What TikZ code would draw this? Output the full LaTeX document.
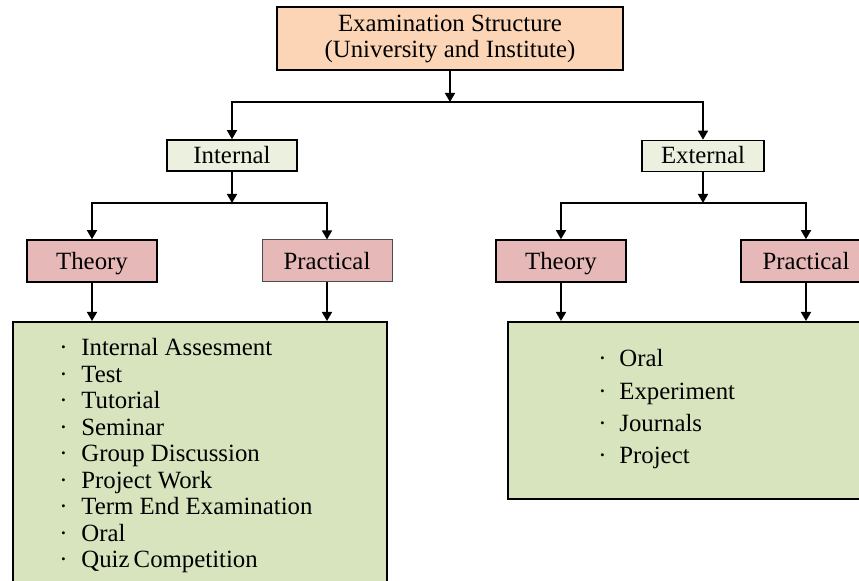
\documentclass[tikz,border=0pt]{standalone}
\usepackage{fontspec}
\setmainfont{Liberation Serif}
\usetikzlibrary{arrows.meta}
\definecolor{peach}{HTML}{FBD5B5}
\definecolor{palegreen}{HTML}{EBF1DE}
\definecolor{rose}{HTML}{E6B8B7}
\definecolor{listgreen}{HTML}{D7E4BD}
\tikzset{
  topbox/.style={draw=black, line width=1.1pt, fill=peach, align=center,
    minimum width=173pt, minimum height=31.5pt, inner sep=0pt},
  midbox/.style={draw=black, line width=0.8pt, fill=palegreen,
    minimum width=65pt, minimum height=15.5pt, inner sep=0pt,
    text height=9.6pt, text depth=1.8pt},
  subbox/.style={draw=black, line width=0.8pt, fill=rose,
    minimum width=65pt, minimum height=21pt, inner sep=0pt,
    text height=10pt, text depth=1pt},
  listbox/.style={draw=black, line width=0.8pt, fill=listgreen,
    anchor=north west, inner sep=0pt},
  item/.style={anchor=base west, inner sep=0pt},
  arr/.style={line width=0.8pt, -{Triangle[width=5pt,length=4.5pt]}}
}
\begin{document}
\begin{tikzpicture}[x=0.5pt,y=-0.5pt,font=\fontsize{12.4}{13}\selectfont]
      \clip (0,0) rectangle (859,581);

      \node[topbox] (exam) at (450,38.5) {Examination Structure\\(University and Institute)};
      \node[midbox] (int) at (232,155.5) {Internal};
      \node[midbox, minimum width=61pt] (ext) at (703,156) {External};

      \node[subbox] (thI) at (92,261) {Theory};
      \node[subbox, draw=black!70, line width=0.5pt] (prI) at (327,261) {Practical};
      \node[subbox] (thE) at (561,261) {Theory};
      \node[subbox] (prE) at (806,261) {Practical};

      \node[listbox, minimum width=187pt, minimum height=140pt] (listI) at (12,321) {};
      \node[listbox, minimum width=190pt, minimum height=88.5pt] (listE) at (507,321) {};

      \foreach \txt [count=\i] in {Internal Assesment, Test, Tutorial, Seminar,
          Group Discussion, Project Work, Term End Examination, Oral, Quiz\,Competition}
      {
          \node[item] (dotI\i) at (59,{356+26.5*(\i-1)}) {·};
          \node[item] (itemI\i) at (81,{356+26.5*(\i-1)}) {\txt};
      }
      \foreach \txt [count=\i] in {Oral, Experiment, Journals, Project}
      {
          \node[item] (dotE\i) at (598,{367+32.3*(\i-1)}) {·};
          \node[item] (itemE\i) at (619,{367+32.3*(\i-1)}) {\txt};
      }

      % connectors
      \coordinate (hubA) at (450,102);
      \coordinate (hubB) at (232,203);
      \coordinate (hubC) at (703,203);
      \draw[arr] (exam.south) -- (hubA);
      \draw[arr] (hubA) -| (int.north);
      \draw[arr] (hubA) -| (ext.north);
      \draw[arr] (int.south) -- (hubB);
      \draw[arr] (hubB) -| (thI.north);
      \draw[arr] (hubB) -| (prI.north);
      \draw[arr] (ext.south) -- (hubC);
      \draw[arr] (hubC) -| (thE.north);
      \draw[arr] (hubC) -| (prE.north);
      \draw[arr] (thI.south) -- (thI.south |- listI.north);
      \draw[arr] (prI.south) -- (prI.south |- listI.north);
      \draw[arr] (thE.south) -- (thE.south |- listE.north);
      \draw[arr] (prE.south) -- (prE.south |- listE.north);

      \end{tikzpicture}
\end{document}
